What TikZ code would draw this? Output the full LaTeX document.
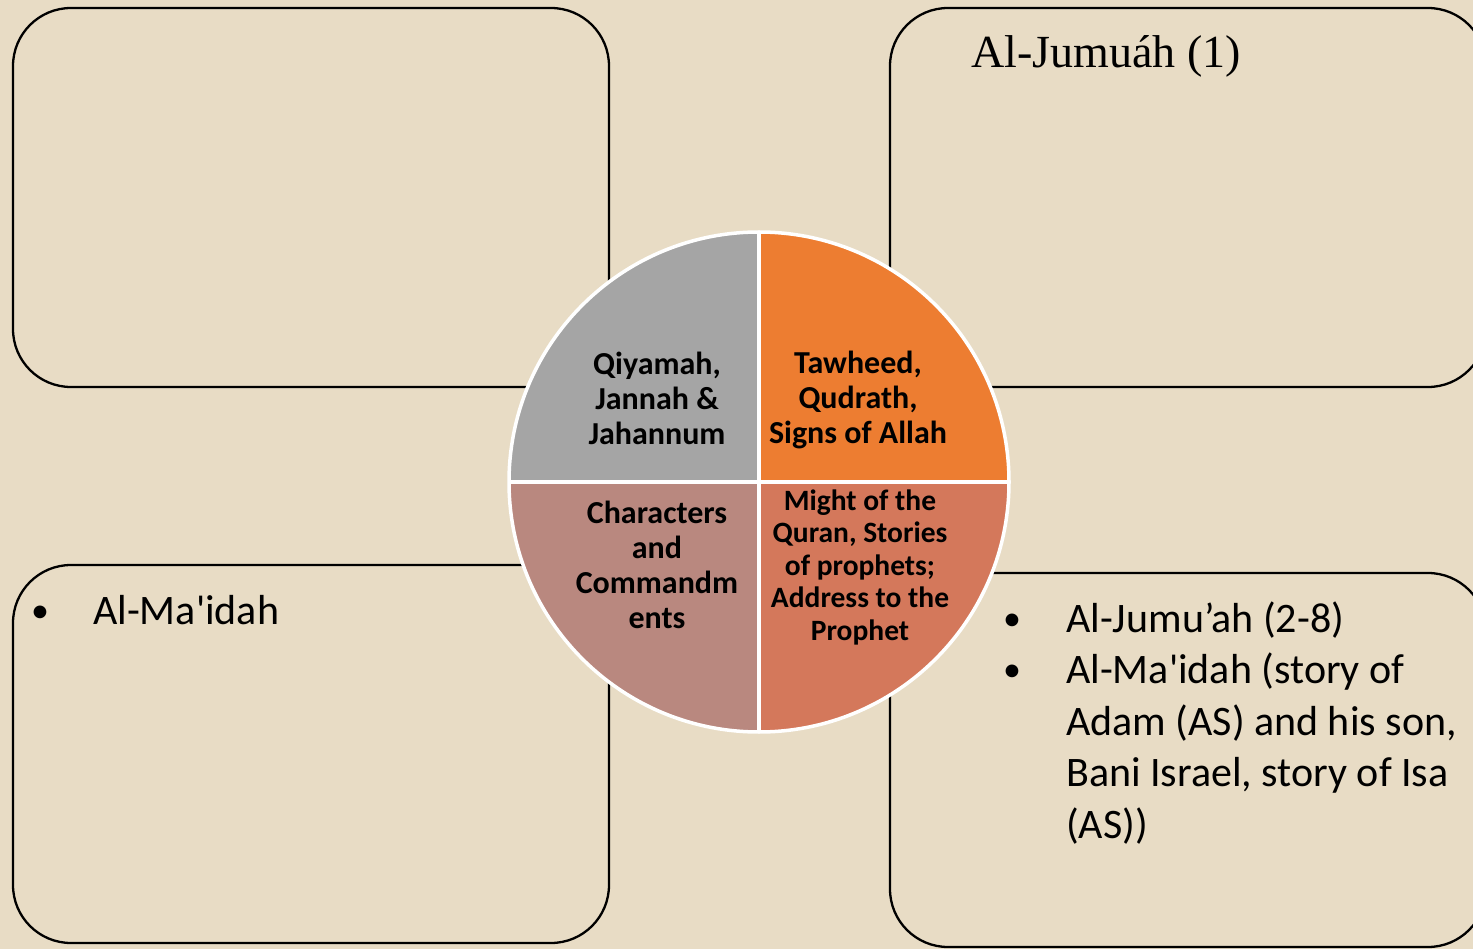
\documentclass[tikz,border=0pt]{standalone}
\usepackage{fontspec}
\setmainfont{Carlito}
\newfontfamily\headserif{Liberation Serif}
\definecolor{paper}{HTML}{E8DCC5}
\definecolor{qgray}{HTML}{A5A5A5}
\definecolor{qorange}{HTML}{ED7D31}
\definecolor{qrose}{HTML}{B9887F}
\definecolor{qsalmon}{HTML}{D4785B}

\begin{document}
\begin{tikzpicture}[x=1pt,y=-1pt,
  panel/.style={draw=black,line width=2.3pt,rounded corners=58pt},
  quadtext/.style={align=center,inner sep=0pt,font=\fontsize{32.0}{35.0}\selectfont\bfseries},
  bodytext/.style={anchor=base west,inner sep=0pt,font=\fontsize{42.0}{51.5}\selectfont},
  dot/.style={anchor=base,inner sep=0pt,font=\fontsize{36.0}{51.5}\selectfont}]
\path[use as bounding box] (0,0) rectangle (1473.0,949.0);
\fill[paper] (0,0) rectangle (1473.0,949.0);
% four panels
\draw[panel] (13.0,8.0) rectangle (609.0,387.0);
\draw[panel] (890.0,8.0) rectangle (1486.0,387.0);
\draw[panel] (13.0,565.0) rectangle (609.0,943.0);
\draw[panel] (890.0,573.0) rectangle (1486.0,947.0);
\node[anchor=base west,inner sep=0pt,font=\fontsize{46.0}{55.0}\selectfont\headserif] (jumuah) at (971,68) {Al-Jumuáh (1)};
\node[dot] (bulletA) at (40,622) {•};
\node[bodytext] (maidah) at (93,624) {Al-Ma\textquotesingle idah};
\node[dot] (bulletB) at (1012,630) {•};
\node[bodytext] (itemB1) at (1066,632) {Al-Jumu’ah (2-8)};
\node[dot] (bulletC) at (1012,681.5) {•};
\node[bodytext] (itemC1) at (1066,683.5) {Al-Ma\textquotesingle idah (story of};
\node[bodytext] (itemC2) at (1066,735) {Adam (AS) and his son,};
\node[bodytext] (itemC3) at (1066,786.5) {Bani Israel, story of Isa};
\node[bodytext] (itemC4) at (1066,838) {(AS))};
% centre wheel
\coordinate (hub) at (759,482);
\fill[qgray] (hub) -- (509,482) arc[start angle=180,end angle=270,radius=250] -- cycle;
\fill[qorange] (hub) -- (759,232) arc[start angle=270,end angle=360,radius=250] -- cycle;
\fill[qsalmon] (hub) -- (1009,482) arc[start angle=0,end angle=90,radius=250] -- cycle;
\fill[qrose] (hub) -- (759,732) arc[start angle=90,end angle=180,radius=250] -- cycle;
\draw[white,line width=3.5pt] (hub) circle[radius=250];
\draw[white,line width=3.5pt] (509,482) -- (1009,482);
\draw[white,line width=3.5pt] (759,232) -- (759,732);
\node[quadtext] (qiyamah) at (657,398) {Qiyamah,\\Jannah \&\\Jahannum};
\node[quadtext] (tawheed) at (858,400) {Tawheed,\\Qudrath,\\Signs of Allah};
\node[quadtext] (characters) at (657,565) {Characters\\and\\Commandm\\ents};
\node[quadtext,font=\fontsize{29.5}{32.5}\selectfont\bfseries] (might) at (860,567) {Might of the\\Quran, Stories\\of prophets;\\Address to the\\Prophet};
\end{tikzpicture}
\end{document}
